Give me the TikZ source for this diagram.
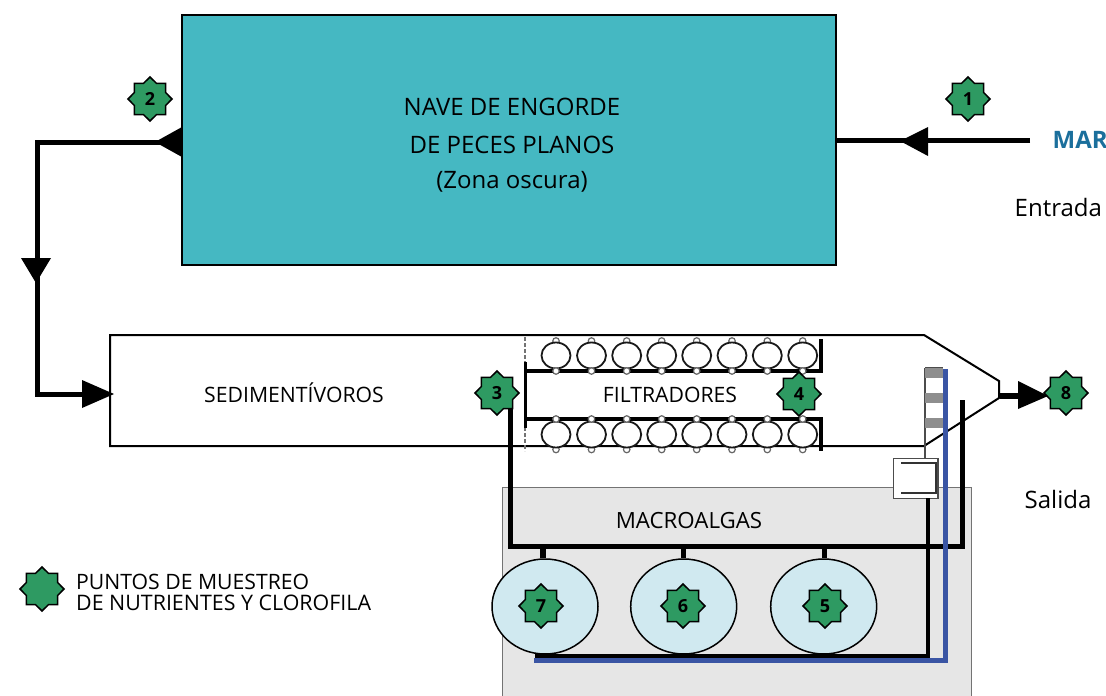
\documentclass[tikz,border=0pt]{standalone}
\usepackage{fontspec}
\setmainfont{Open Sans}
\usetikzlibrary{shapes.geometric,calc}
\definecolor{teal1}{HTML}{45B8C2}
\definecolor{green1}{HTML}{2E9A62}
\definecolor{blue1}{HTML}{3A55A4}
\definecolor{mar}{HTML}{1B6F9C}
\definecolor{algae}{HTML}{E6E6E6}
\definecolor{pond}{HTML}{D0E9F0}
\definecolor{ladder}{HTML}{8E8E8E}
\tikzset{
  x=1pt,y=-1pt,
  label text/.style={font=\fontsize{21.2}{24}\selectfont,inner sep=0pt,text=black},
  big text/.style={font=\fontsize{24}{28}\selectfont,inner sep=0pt,text=black},
  sample/.style={star,star points=8,star point ratio=1.3,draw=black,line width=1.5pt,fill=green1,
     minimum size=44pt,inner sep=0pt,font=\fontsize{18}{18}\selectfont\bfseries},
  pipe/.style={line width=5pt,draw=black,line join=miter},
  bluepipe/.style={line width=5pt,draw=blue1},
  head/.style={fill=black,draw=none},
  mussel/.style={ellipse,draw=black!90,line width=1.8pt,fill=white,minimum width=29pt,minimum height=26pt,inner sep=0pt},
  nub/.style={circle,draw=black!60,line width=1.2pt,fill=white,minimum width=6.5pt,inner sep=0pt},
  pond node/.style={ellipse,draw=black,line width=1.5pt,fill=pond,minimum width=106pt,minimum height=95pt,inner sep=0pt},
}
\begin{document}
\begin{tikzpicture}
\useasboundingbox (0,0) rectangle (1106,696);
\clip (0,0) rectangle (1106,696);
\fill[white] (0,0) rectangle (1106,696);

% macroalgae basin
\node[draw=black!55,line width=1pt,fill=algae,minimum width=469pt,minimum height=260pt,inner sep=0pt,anchor=north west] (basin) at (501.5,487) {};

% tank
\node[draw=black,line width=2pt,fill=teal1,minimum width=654pt,minimum height=250pt,inner sep=0pt,anchor=north west] (tank) at (180.5,14) {};
\node[big text] (t1) at (512,107) {NAVE DE ENGORDE};
\node[big text] (t2) at (512,145) {DE PECES PLANOS};
\node[big text] (t3) at (512,182) {(Zona oscura)};

% raceway
\coordinate (rwTL) at (110,335);
\coordinate (rwTR) at (924,335);
\coordinate (rwN1) at (999,381);
\coordinate (rwN2) at (999,398);
\coordinate (rwBR) at (924,446);
\coordinate (rwBL) at (110,446);
\draw[line width=2pt,fill=white,line join=miter] (rwTL)--(rwTR)--(rwN1)--(rwN2)--(rwBR)--(rwBL)--cycle;

% inlet
\coordinate (inlet) at (1030,140);
\coordinate (tankIn) at (837,140);
\draw[pipe] (inlet) -- (tankIn);
\fill[head] (900,141) -- (928,127) -- (928,156) -- cycle;

% tank to raceway
\coordinate (tankOut) at (182,142);
\coordinate (bend1) at (37.5,142);
\coordinate (bend2) at (37.5,394);
\coordinate (rwIn) at (100,394);
\draw[pipe] (tankOut) -- (bend1) -- (bend2) -- (rwIn);
\fill[head] (155,142) -- (182,127) -- (182,157) -- cycle;
\fill[head] (21,258) -- (51,258) -- (36,283) -- cycle;
\fill[head] (82,380) -- (114,394) -- (82,408) -- cycle;

% filter section
\draw[black!55,line width=1.2pt,dash pattern=on 4pt off 2pt] (525,337) -- (525,451);
\coordinate (fA) at (525,362);
\coordinate (fB) at (525,428);
\draw[line width=3pt] (fA) -- (fB);
\foreach \i/\x in {1/556,2/591.5,3/626.7,4/661.7,5/696.7,6/732,7/767.3,8/802.7}{
  \node[nub] (a\i) at (\x,341) {};
  \node[nub] (b\i) at (\x,449.5) {};
  \node[mussel] (mu\i) at (\x,355.5) {};
  \node[mussel] (ml\i) at (\x,434.5) {};
}
\draw[line width=4pt,line join=miter] (525,371) -- (821,371) -- (821,339);
\draw[line width=4pt,line join=miter] (525,419) -- (821,419) -- (821,451);
\foreach \i/\x in {1/556,2/591.5,3/626.7,4/661.7,5/696.7,6/732,7/767.3,8/802.7}{
  \node[nub] (c\i) at (\x,371) {};
  \node[nub] (d\i) at (\x,419) {};
}

% ponds
\node[pond node] (p7) at (545,606.5) {};
\node[pond node] (p6) at (683.7,606.5) {};
\node[pond node] (p5) at (823.7,606.5) {};

% collector pipe from raceway through ponds
\coordinate (c3) at (510,400);
\coordinate (c3b) at (510,546);
\coordinate (c8b) at (962,546);
\coordinate (c8) at (962,400);
\draw[pipe] (c3) -- (c3b) -- (c8b) -- (c8);
\coordinate (j7) at (543,546);
\coordinate (j6) at (683.5,546);
\coordinate (j5) at (824.5,546);
\draw[line width=5.5pt] (j7) -- (p7.north -| j7);
\draw[line width=5.5pt] (j6) -- (p6.north -| j6);
\draw[line width=5.5pt] (j5) -- (p5.north -| j5);

% ladder
\draw[line width=1.5pt,black!70] (925,368) -- (925,458);
\draw[line width=1.5pt,black!70] (925,368) -- (943,368);
\foreach \y in {368,393,418}{\fill[ladder] (925,\y) rectangle (943,\y+10);}

% overflow box
\node[draw=black!70,line width=1.5pt,fill=white,minimum width=44.5pt,minimum height=40pt,inner sep=0pt,anchor=north west] (box) at (892.5,457.5) {};
\draw[line width=1.8pt,black!80,line join=miter] (901,463) -- (936,463) -- (936,493) -- (901,493);

% return pipes
\coordinate (rTop) at (928,498);
\coordinate (rCorner) at (928,656);
\coordinate (rEnd) at (535,656);
\draw[line width=4.5pt,line join=miter] (rTop) -- (rCorner) -- (rEnd);
\coordinate (blueTop) at (945,369);
\coordinate (blueCorner) at (945,660);
\coordinate (blueEnd) at (534,660);
\draw[bluepipe,line join=miter] (blueTop) -- (blueCorner) -- (blueEnd);

% outlet
\coordinate (outA) at (1000,396);
\coordinate (outB) at (1030,396);
\draw[line width=6pt] (outA) -- (outB);
\fill[head] (1018,381) -- (1048,396) -- (1018,409) -- cycle;

% sample stars
\node[sample] (s1) at (968,99) {1};
\node[sample] (s2) at (150,99) {2};
\node[sample] (s3) at (497,393) {3};
\node[sample] (s4) at (799,394) {4};
\node[sample] (s5) at (825,606) {5};
\node[sample] (s6) at (683,606) {6};
\node[sample] (s7) at (541,606) {7};
\node[sample] (s8) at (1066,393) {8};
\node[sample] (s0) at (42,589) {};

% labels
\node[label text] (sed) at (294,393) {SEDIMENTÍVOROS};
\node[label text] (fil) at (670,395) {FILTRADORES};
\node[label text,font=\fontsize{22.3}{24}\selectfont] (mac) at (689,521) {MACROALGAS};
\node[big text,anchor=west] (ent) at (1014.5,207) {Entrada};
\node[big text,anchor=west] (sal) at (1024.5,499) {Salida};
\node[label text,anchor=west,font=\fontsize{24}{28}\selectfont\bfseries,text=mar] (marn) at (1052.5,140) {MAR};
\node[label text,anchor=west] (l1) at (76,582) {PUNTOS DE MUESTREO};
\node[label text,anchor=west,font=\fontsize{21.4}{24}\selectfont] (l2) at (76,603) {DE NUTRIENTES Y CLOROFILA};
\end{tikzpicture}
\end{document}
